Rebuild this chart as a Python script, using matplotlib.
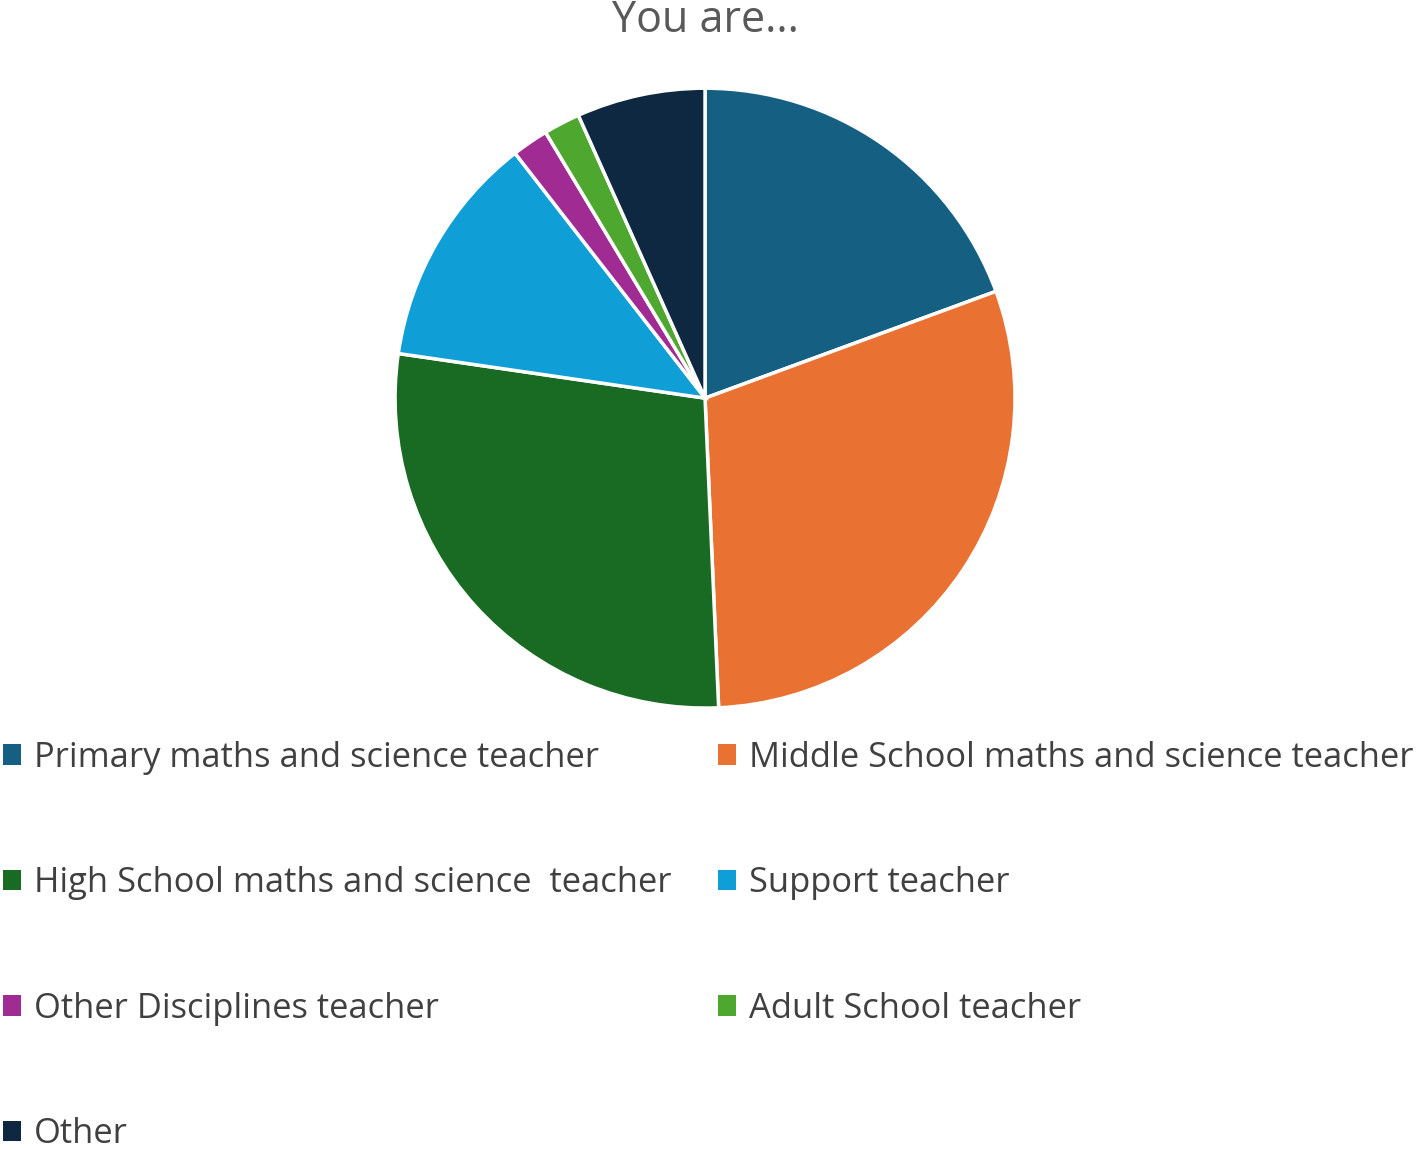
import matplotlib.pyplot as plt

# Data
labels = ['Primary maths and science teacher',
          'Middle School maths and science teacher',
          'High School maths and science  teacher',
          'Support teacher',
          'Other Disciplines teacher',
          'Adult School teacher',
          'Other']
shares = [19.4, 29.9, 28.0, 12.2, 1.9, 1.9, 6.7]
colors = ['#156082', '#E97132', '#196B24', '#0F9ED5', '#A02B93', '#4EA72E', '#0E2841']

plt.rcParams['font.family'] = ['Open Sans', 'DejaVu Sans']

fig = plt.figure(figsize=(14.17, 11.5), dpi=100)
ax = fig.add_axes([0.2788, 0.3843, 0.4375, 0.539])

wedges, _ = ax.pie(shares, colors=colors, startangle=90, counterclock=False,
                   wedgeprops=dict(edgecolor='white', linewidth=2.5))
ax.set_xlim(-1, 1)
ax.set_ylim(-1, 1)
ax.set_aspect('auto')

fig.text(0.4975, 0.982, 'You are...', ha='center', va='center',
         fontsize=31, color='#595959')

# legend filled row by row
order = [0, 2, 4, 6, 1, 3, 5]
leg = fig.legend([wedges[i] for i in order], [labels[i] for i in order],
                 ncol=2, loc='upper left', bbox_to_anchor=(-0.020, 0.383),
                 frameon=False, fontsize=24.8, labelcolor='#404040',
                 handlelength=0.53, handleheight=0.53, handletextpad=0.38,
                 labelspacing=2.66, columnspacing=1.35)
for h in leg.legend_handles:
    h.set_edgecolor('none')

fig.savefig('out.png', dpi=100)
